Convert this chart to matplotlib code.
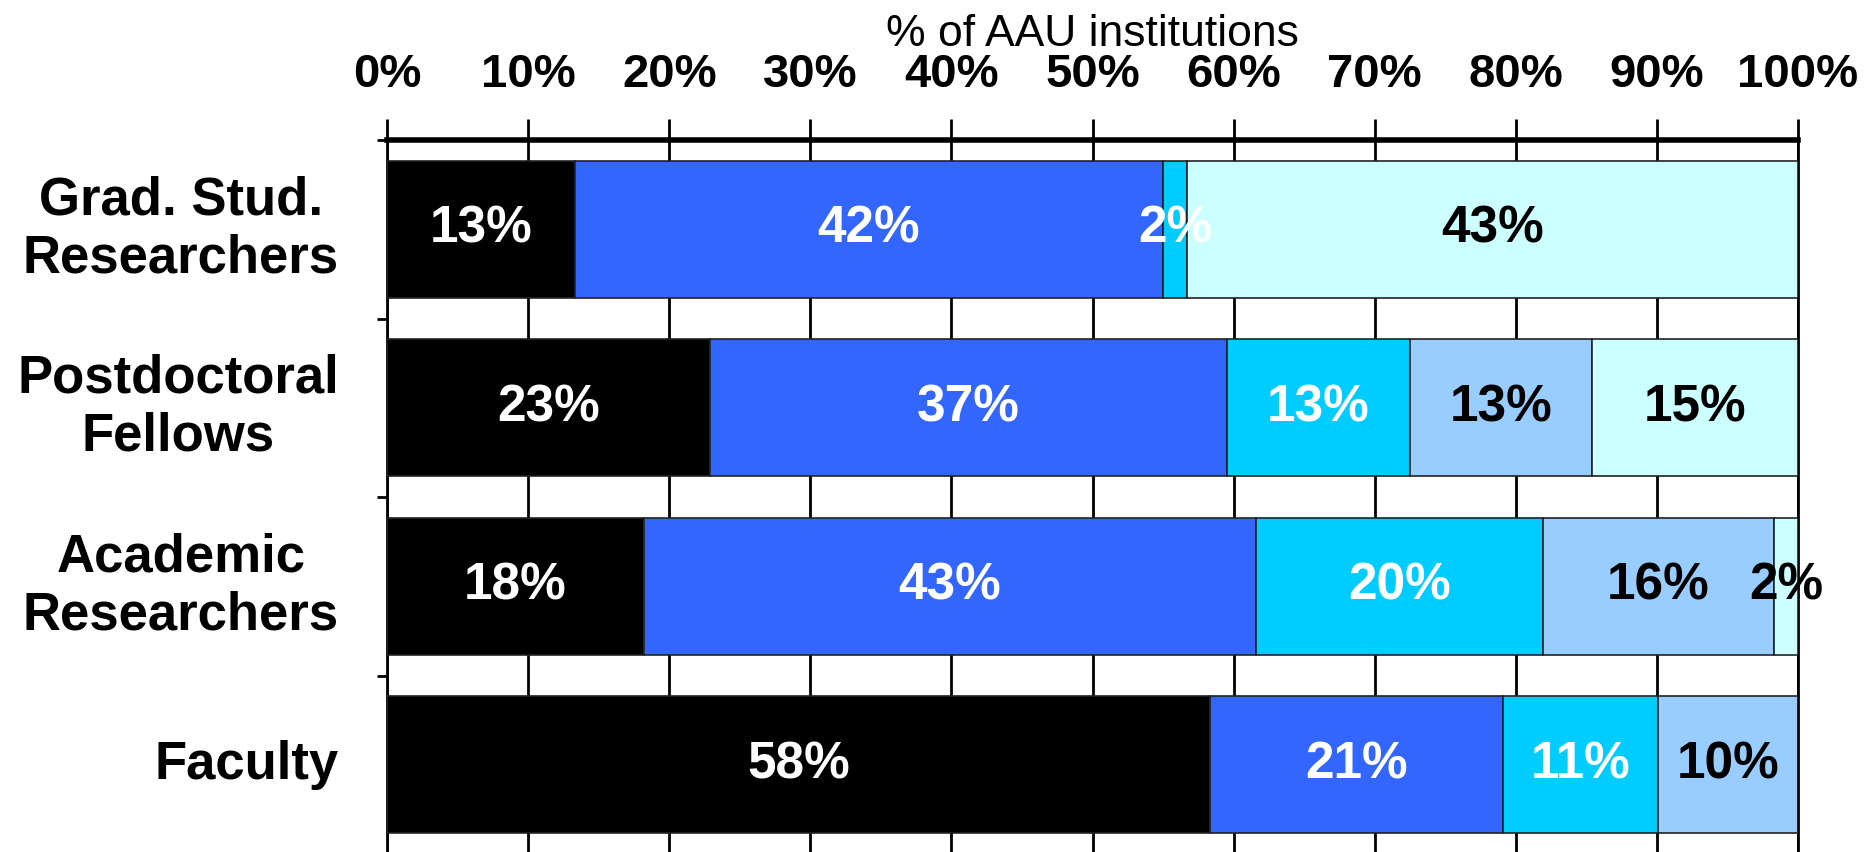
import numpy as np
import matplotlib
matplotlib.use("Agg")
import matplotlib.pyplot as plt

plt.rcParams['font.family'] = ['Liberation Sans', 'DejaVu Sans']

# groups, top to bottom
groups = ['Grad. Stud.\nResearchers', 'Postdoctoral\nFellows',
          'Academic\nResearchers', 'Faculty']

# share of institutions (%) per segment, left to right
seg_black = [13.3, 22.9, 18.2, 58.3]
seg_blue = [41.7, 36.6, 43.4, 20.8]
seg_cyan = [1.7, 13.0, 20.3, 11.0]
seg_lightblue = [0.0, 12.9, 16.4, 9.9]
seg_pale = [43.3, 14.6, 1.7, 0.0]

segments = [seg_black, seg_blue, seg_cyan, seg_lightblue, seg_pale]
colors = ['#000000', '#3366FF', '#00CCFF', '#99CCFF', '#CCFFFF']
text_colors = ['white', 'white', 'white', 'black', 'black']

xticks = np.arange(0, 101, 10)

fig = plt.figure(figsize=(18.66, 8.52), dpi=100)
ax = fig.add_axes([387 / 1866, -2 / 852, 1411 / 1866, 714 / 852])

n = len(groups)
ypos = np.arange(n) + 0.5
left = np.zeros(n)
for vals, col, tcol in zip(segments, colors, text_colors):
    vals = np.array(vals)
    ax.barh(ypos, vals, left=left, height=0.77, color=col,
            edgecolor='#222222', linewidth=1.2, zorder=3)
    for y, l, v in zip(ypos, left, vals):
        if v > 0:
            ax.text(l + v / 2, y, f'{v:.0f}%', ha='center', va='center',
                    color=tcol, fontsize=37, fontweight='bold', zorder=5)
    left += vals

ax.set_xlim(0, 100)
ax.set_ylim(n, 0)

ax.xaxis.tick_top()
ax.xaxis.set_label_position('top')
ax.set_xticks(xticks)
ax.set_xticklabels([f'{t}%' for t in xticks], fontsize=34, fontweight='bold')
ax.tick_params(axis='x', direction='out', length=15, width=2, pad=16)
ax.set_xlabel('% of AAU institutions', fontsize=32, labelpad=5)
ax.grid(axis='x', color='black', linewidth=2, zorder=0)

# boundary ticks on y, group names as text
ax.set_yticks(np.arange(n + 1))
ax.set_yticklabels([])
ax.tick_params(axis='y', direction='out', length=7, width=2)
for y, g in zip(ypos, groups):
    ax.text(-3.4, y, g, ha='right', va='center', multialignment='center',
            fontsize=38, fontweight='bold', linespacing=1.2)

ax.spines['top'].set_linewidth(4)
ax.spines['left'].set_linewidth(2)
ax.spines['right'].set_linewidth(2)
ax.spines['bottom'].set_visible(False)

fig.savefig('out.png', dpi=100)
